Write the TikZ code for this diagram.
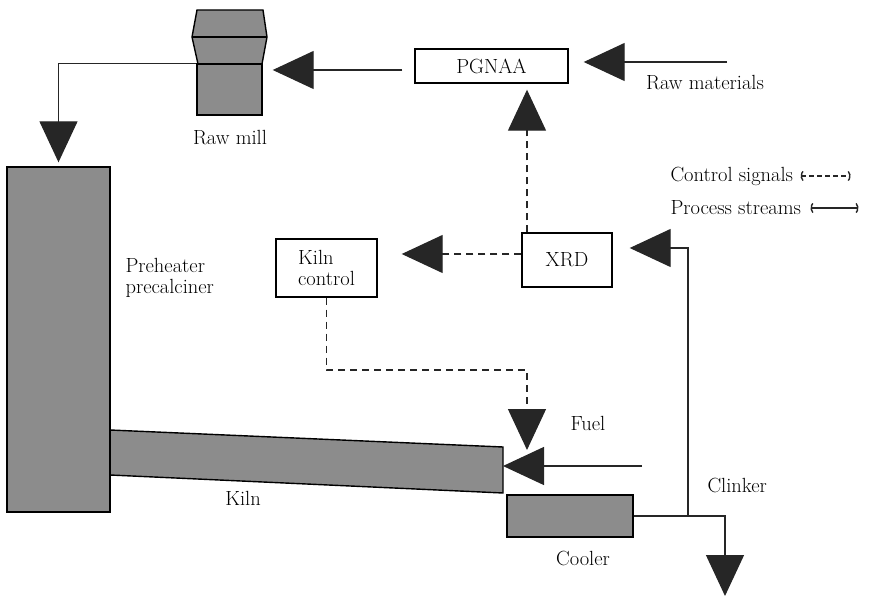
\documentclass[tikz,border=0pt]{standalone}
\usepackage{amsmath}
\usepackage{tikz}
\usetikzlibrary{arrows.meta}

\begin{document}
\begin{tikzpicture}[x=1pt, y=-1pt, font=\fontsize{20.5}{21.5}\selectfont]
	\tikzstyle{unit} = [draw, line width=1.4pt, fill=black!45, inner sep=0pt]
	\tikzstyle{box} = [draw, line width=1.4pt, inner sep=0pt]
	\tikzstyle{flow} = [draw=black!85, line width=1.3pt, -{Triangle[length=41pt, width=38pt]}]
	\tikzstyle{signal} = [flow, dash pattern=on 7pt off 5pt]
	\tikzstyle{key} = [black!85, line width=1.4pt, {Parenthesis[length=4pt, width=12pt]}-{Parenthesis[length=4pt, width=12pt]}]

	\useasboundingbox (0,0) rectangle (871,596);

	% kiln tube and raw mill hopper
	\draw[unit] (110,430) -- (503,447) -- (503,493) -- (110,475) -- cycle;
	\draw[unit] (197,10) -- (263,10) -- (267,37) -- (262,64) -- (198,64) -- (192,37) -- cycle;
	\draw[line width=1.4pt] (192,37) -- (267,37);

	\node[unit, minimum width=65pt, minimum height=51pt] (rawmill) at (229.5,89.5) {};
	\node[unit, minimum width=103pt, minimum height=345pt] (preheater) at (58.5,339.5) {};
	\node[unit, minimum width=126pt, minimum height=42pt] (cooler) at (570,516) {};

	\node[box, minimum width=153pt, minimum height=34pt] (pgnaa) at (491.5,66) {PGNAA};
	\node[box, minimum width=90pt, minimum height=54pt] (xrd) at (567,260) {XRD};
	\node[box, minimum width=101pt, minimum height=58pt, align=left] (kilnctl) at (326.5,268) {Kiln\\control};

	\node (rawmilllabel) at (230,138) {Raw mill};
	\node (rawlabel) at (705,83) {Raw materials};
	\node[anchor=west, align=left] (prelabel) at (122,278) {Preheater\\precalciner};
	\node (kilnlabel) at (243,498) {Kiln};
	\node (fuellabel) at (588,423) {Fuel};
	\node[anchor=west] (clinkerlabel) at (704,485) {Clinker};
	\node (coolerlabel) at (583,558) {Cooler};

	\node[anchor=west] (ctlkey) at (667,176) {Control signals};
	\node[anchor=west] (flowkey) at (667,208) {Process streams};
	\draw[key, dash pattern=on 5pt off 3pt] ([xshift=4pt]ctlkey.east) -- ++(50,0);
	\draw[key] ([xshift=6pt]flowkey.east) -- ++(48,0);

	\coordinate (rawsrc) at (727,62);
	\coordinate (ctlbend) at (527,370);
	\coordinate (fuelin) at (527,450);
	\coordinate (fuelsrc) at (642,466);
	\coordinate (kilnend) at (503,466);
	\coordinate (sample) at (688,516);
	\coordinate (clinkout) at (725,596);

	\draw[flow, shorten >=15pt] (rawsrc) -- (pgnaa.east |- rawsrc);
	\draw[flow, shorten <=12pt, shorten >=10pt] ([yshift=-4pt]pgnaa.west) -- ([yshift=19.5pt]rawmill.east);
	\draw[flow, shorten >=4pt] (rawmill.north west) -| (preheater.north);
	\draw[signal, shorten >=6pt] ([xshift=-40pt]xrd.north) -- ([xshift=35.5pt]pgnaa.south);
	\draw[signal, shorten >=24pt] ([yshift=6pt]xrd.west) -- ([yshift=14pt]kilnctl.east);
	\draw[signal] (kilnctl.south) |- (ctlbend) -- (fuelin);
	\draw[flow] (fuelsrc) -- (kilnend);
	\draw[flow] (cooler.east) -| (clinkout);
	\draw[flow, shorten >=17pt] (sample) |- ([yshift=12pt]xrd.east);
\end{tikzpicture}
\end{document}
